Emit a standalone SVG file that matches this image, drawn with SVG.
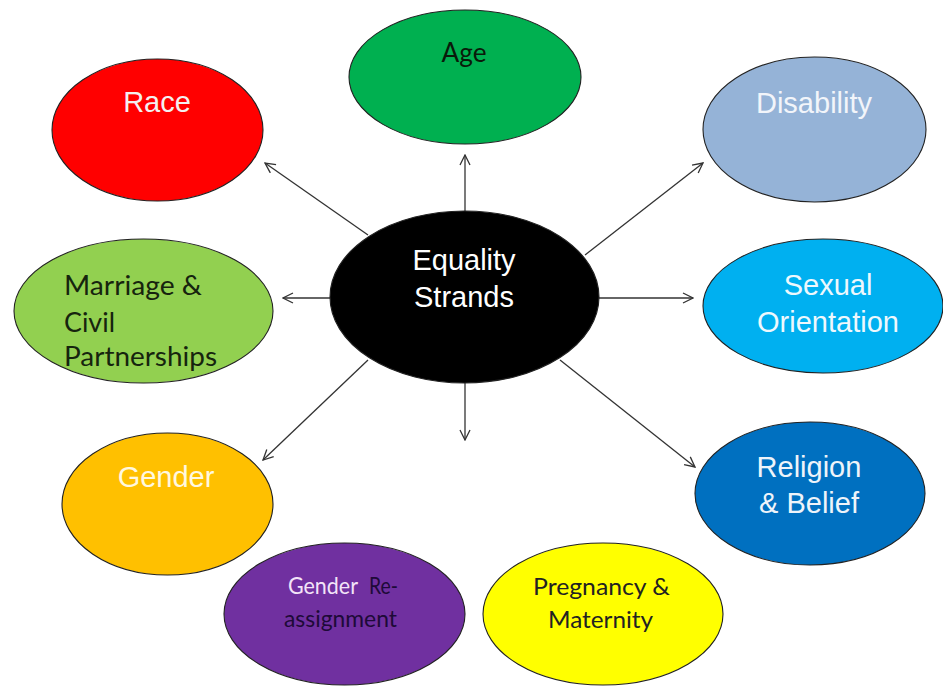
<svg xmlns="http://www.w3.org/2000/svg" width="943" height="686" viewBox="0 0 943 686">
<style>
.node{stroke:#222;stroke-width:1.1}
.ar{font-family:"Liberation Sans",Arial,sans-serif;font-size:29px;text-anchor:middle}
.cal{font-family:Lato,"Open Sans",sans-serif;font-size:26px}
.sm{font-size:24px}
.con line{stroke:#333;stroke-width:1.3;fill:none;marker-end:url(#arr)}
</style>
<defs>
<marker id="arr" viewBox="0 0 12 12" refX="11" refY="6" markerWidth="12" markerHeight="12" markerUnits="userSpaceOnUse" orient="auto">
<path d="M1,1 L11,6 L1,11" fill="none" stroke="#333" stroke-width="1.3"/>
</marker>
</defs>
<rect width="943" height="686" fill="#fff"/>
<g class="con">
<line x1="465" y1="211" x2="465" y2="155"/>
<line x1="368" y1="235" x2="265" y2="163"/>
<line x1="330" y1="298" x2="283" y2="298"/>
<line x1="585" y1="255" x2="703" y2="163"/>
<line x1="599" y1="298" x2="693" y2="298"/>
<line x1="368" y1="360" x2="263" y2="460"/>
<line x1="465" y1="383" x2="465" y2="440"/>
<line x1="560" y1="360" x2="695" y2="467"/>
</g>
<g id="age">
<ellipse class="node" cx="465" cy="77" rx="116" ry="67" fill="#00b050"/>
<text class="cal" x="464" y="62" text-anchor="middle" textLength="45" lengthAdjust="spacingAndGlyphs" fill="#0a1a0a">Age</text>
</g>
<g id="race">
<ellipse class="node" cx="157.5" cy="130" rx="105.5" ry="71" fill="#ff0000"/>
<text class="ar" x="157" y="112" fill="#f4f0f0">Race</text>
</g>
<g id="disability">
<ellipse class="node" cx="814.5" cy="129.5" rx="111.5" ry="72.5" fill="#95b3d7"/>
<text class="ar" x="814" y="113" fill="#f2f5fa">Disability</text>
</g>
<g id="equality">
<ellipse class="node" cx="464.5" cy="297" rx="134.5" ry="86" fill="#000"/>
<text class="ar" x="464" y="270" fill="#fff">Equality</text>
<text class="ar" x="464" y="307" fill="#fff">Strands</text>
</g>
<g id="marriage">
<ellipse class="node" cx="143.5" cy="311" rx="129.5" ry="72" fill="#92d050"/>
<text class="cal" x="64" y="295" textLength="138" lengthAdjust="spacingAndGlyphs" fill="#16240e">Marriage &amp;</text>
<text class="cal" x="64" y="332" textLength="51" lengthAdjust="spacingAndGlyphs" fill="#16240e">Civil</text>
<text class="cal" x="64" y="366" textLength="153" lengthAdjust="spacingAndGlyphs" fill="#16240e">Partnerships</text>
</g>
<g id="sexual">
<ellipse class="node" cx="823" cy="306" rx="120" ry="67" fill="#00b0f0"/>
<text class="ar" x="828" y="295" fill="#eef8fd">Sexual</text>
<text class="ar" x="828" y="332" fill="#eef8fd">Orientation</text>
</g>
<g id="gender">
<ellipse class="node" cx="167.5" cy="504" rx="105.5" ry="71" fill="#ffc000"/>
<text class="ar" x="166" y="487" fill="#fff8e0">Gender</text>
</g>
<g id="religion">
<ellipse class="node" cx="810" cy="493.5" rx="115" ry="71.5" fill="#0070c0"/>
<text class="ar" x="809" y="477" fill="#eef4fa">Religion</text>
<text class="ar" x="809" y="513" fill="#eef4fa">&amp; Belief</text>
</g>
<g id="reassignment">
<ellipse class="node" cx="344.5" cy="614" rx="120.5" ry="71" fill="#7030a0"/>
<text class="cal sm" x="288" y="594" textLength="70" lengthAdjust="spacingAndGlyphs" fill="#f3e4f8">Gender</text>
<text class="cal sm" x="369" y="594" textLength="29" lengthAdjust="spacingAndGlyphs" fill="#1e0a38">Re-</text>
<text class="cal sm" x="284" y="627" textLength="113" lengthAdjust="spacingAndGlyphs" fill="#1e0a38">assignment</text>
</g>
<g id="pregnancy">
<ellipse class="node" cx="603" cy="614" rx="120" ry="71" fill="#ffff00"/>
<text class="cal sm" x="601.5" y="595" text-anchor="middle" textLength="137" lengthAdjust="spacingAndGlyphs" fill="#222">Pregnancy &amp;</text>
<text class="cal sm" x="600.5" y="628" text-anchor="middle" textLength="105" lengthAdjust="spacingAndGlyphs" fill="#222">Maternity</text>
</g>
</svg>
